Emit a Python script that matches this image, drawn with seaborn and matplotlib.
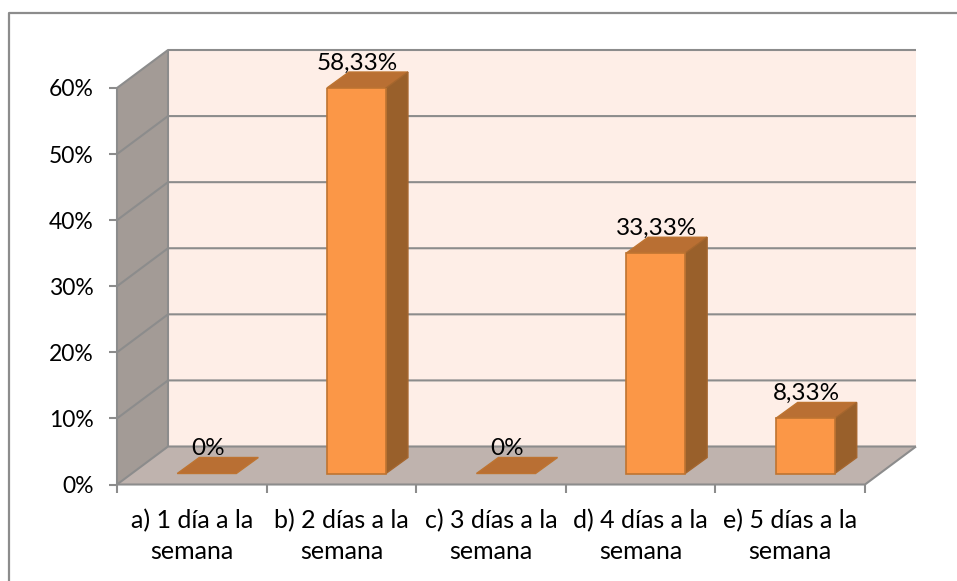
import matplotlib
matplotlib.use("Agg")
import matplotlib.pyplot as plt
import seaborn as sns
import numpy as np
from matplotlib.lines import Line2D
from matplotlib.patches import Polygon
from matplotlib.transforms import Affine2D, IdentityTransform

# --- DATOS ---
CATEGORIAS = ["a) 1 día a la\nsemana", "b) 2 días a la\nsemana", "c) 3 días a la\nsemana",
              "d) 4 días a la\nsemana", "e) 5 días a la\nsemana"]
VALORES = [0, 58.33, 0, 33.33, 8.33]
ETIQUETAS = ["0%", "58,33%", "0%", "33,33%", "8,33%"]
TICKS_Y = [0, 10, 20, 30, 40, 50, 60]

# --- ESTILO (pixeles de la imagen) ---
W, H = 957, 581
FONDO_X, FONDO_Y = 51, 38    # profundidad de la caja 3D
BARRA_X, BARRA_Y = 15, 11    # barra metida dentro de la caja
CARA_X, CARA_Y = 22, 16      # profundidad de cada barra
GRIS = "#8C8C8C"
LW = 1.5

sns.set_style("white")
plt.rcParams["font.family"] = ["Lato", "DejaVu Sans"]

fig = plt.figure(figsize=(W / 100, H / 100), dpi=100)
ax = fig.add_axes([117 / W, 1 - 484.5 / H, (865 - 117) / W, (484.5 - 88) / H])

df = {"categoria": CATEGORIAS, "valor": VALORES}
sns.barplot(data=df, x="categoria", y="valor", color="#FB9747", saturation=1, width=0.395,
            edgecolor="#BE7431", linewidth=1.2, ax=ax, zorder=6)
ax.set_xlim(-0.5, 4.5)
ax.set_ylim(0, 60)
ax.set_xlabel("")
ax.set_ylabel("")
sns.despine(ax=ax, left=True, bottom=True)
ax.patch.set_visible(False)


def px(x, y, dx=0, dy=0):
    """dato -> pixel de pantalla, con desplazamiento"""
    p = ax.transData.transform((x, y))
    return (p[0] + dx, p[1] + dy)


def cara(puntos, color, edge="none", z=1):
    ax.add_patch(Polygon(puntos, closed=True, facecolor=color, edgecolor=edge, linewidth=1.0,
                         transform=IdentityTransform(), zorder=z, clip_on=False))


def linea(puntos, z=3):
    xs, ys = zip(*puntos)
    ax.add_line(Line2D(xs, ys, color=GRIS, lw=LW, transform=IdentityTransform(), zorder=z,
                       clip_on=False, solid_capstyle="butt"))


x0, x1 = -0.5, 4.5
y1 = TICKS_Y[-1]

# paredes y piso
cara([px(x0, 0, FONDO_X, FONDO_Y), px(x1, 0, FONDO_X, FONDO_Y), px(x1, y1, FONDO_X, FONDO_Y),
      px(x0, y1, FONDO_X, FONDO_Y)], "#FEEEE7")
cara([px(x0, 0), px(x0, y1), px(x0, y1, FONDO_X, FONDO_Y), px(x0, 0, FONDO_X, FONDO_Y)], "#A39B96")
cara([px(x0, 0), px(x1, 0), px(x1, 0, FONDO_X, FONDO_Y), px(x0, 0, FONDO_X, FONDO_Y)], "#BFB3AE")

# rejilla
for t in TICKS_Y:
    linea([px(x0, t), px(x0, t, FONDO_X, FONDO_Y), px(x1, t, FONDO_X, FONDO_Y)])
linea([px(x0, 0), px(x1, 0), px(x1, 0, FONDO_X, FONDO_Y)])
linea([px(x0, 0), px(x0, y1)], z=2)
linea([px(x0, 0, FONDO_X, FONDO_Y), px(x0, y1, FONDO_X, FONDO_Y)], z=2)

# barras: se mueve la cara frontal y se agregan lateral y tapa
offset = ax.transData + Affine2D().translate(BARRA_X, BARRA_Y)
for barra, val, texto in zip(ax.patches, VALORES, ETIQUETAS):
    barra.set_transform(offset)
    izq, der = barra.get_x(), barra.get_x() + barra.get_width()
    bx, by = BARRA_X, BARRA_Y
    cara([px(izq, val, bx, by), px(der, val, bx, by), px(der, val, bx + CARA_X, by + CARA_Y),
          px(izq, val, bx + CARA_X, by + CARA_Y)], "#B96F33", "#BE7431", z=5)
    if val > 0:
        cara([px(der, 0, bx, by), px(der, val, bx, by), px(der, val, bx + CARA_X, by + CARA_Y),
              px(der, 0, bx + CARA_X, by + CARA_Y)], "#99602B", "#A5662E", z=5)
    else:
        barra.set_visible(False)
    centro = (izq + der) / 2
    ax.text(centro, val, texto, fontsize=17.5, color="black", ha="center", va="center", zorder=8,
            transform=ax.transData + Affine2D().translate(BARRA_X + 1, BARRA_Y + CARA_Y + 9))

# ejes
ax.set_yticks(TICKS_Y)
ax.set_yticklabels([f"{t}%" for t in TICKS_Y])
ax.set_xticks(range(len(CATEGORIAS)))
ax.set_xticklabels(CATEGORIAS, linespacing=1.37)
ax.set_xticks(np.arange(-0.5, 5), minor=True)
ax.tick_params(axis="y", left=True, length=6, width=LW, color=GRIS, labelsize=16.5, labelcolor="black", pad=11)
ax.tick_params(axis="x", which="major", bottom=False, length=0, labelsize=18, labelcolor="black", pad=18)
ax.tick_params(axis="x", which="minor", bottom=True, length=6, width=LW, color=GRIS)

# marco del grafico (solo arriba e izquierda)
fig.add_artist(Line2D([9 / W, 9 / W, 1], [0, 1 - 13 / H, 1 - 13 / H], color=GRIS, lw=1.6,
                      transform=fig.transFigure))

fig.savefig("out.png", dpi=100)
